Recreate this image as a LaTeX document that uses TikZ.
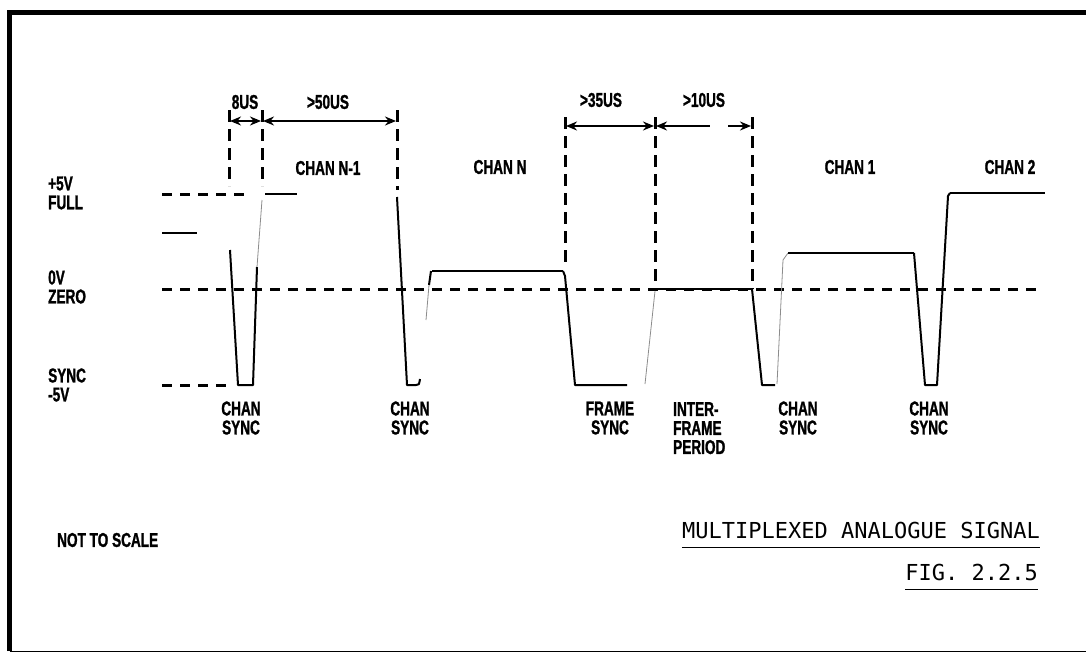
\documentclass[tikz,border=0pt]{standalone}
\usepackage{fontspec}
\usetikzlibrary{arrows.meta}
\newfontfamily\labfont[FakeStretch=0.68, BoldFeatures={FakeBold=1.2}]{Liberation Sans}
\newfontfamily\titfont{DejaVu Sans Mono}
\begin{document}
\begin{tikzpicture}[x=1pt,y=-1pt,
  lbl/.style={font=\labfont\bfseries\fontsize{20}{19}\selectfont, align=center, inner sep=0pt},
  lbll/.style={lbl, align=left, anchor=west},
  ttl/.style={font=\titfont\fontsize{22}{24}\selectfont, inner sep=0pt, anchor=east},
  sig/.style={line width=2pt, line join=round},
  lev/.style={line width=1.4pt},
  faint/.style={line width=0.8pt, black!45},
  hdash/.style={line width=3pt, dash pattern=on 10pt off 8pt},
  vdash/.style={line width=3pt, dash pattern=on 12pt off 7pt},
  dim/.style={line width=1.8pt, {Stealth[length=11pt,width=9pt]}-{Stealth[length=11pt,width=9pt]}},
  frame/.style={line width=5pt}]
\useasboundingbox (0,0) rectangle (1086,653);
% frame
\draw[frame] (9.5,651) -- (9.5,12) -- (1086,12);
\draw[line width=1pt] (9.5,651) -- (1086,651);

% level reference lines
\draw[hdash] (162,289) -- (1036,289);
\draw[hdash] (162,194) -- (250,194);
\draw[hdash] (162,385) -- (232,385);

% vertical markers
\coordinate (v1t) at (229,110); \coordinate (v1b) at (229,186);
\coordinate (v2t) at (262,110); \coordinate (v2b) at (262,186);
\coordinate (v3t) at (397,110); \coordinate (v3b) at (397,190);
\coordinate (v4t) at (565,117); \coordinate (v4b) at (565,268);
\coordinate (v5t) at (655,117); \coordinate (v5b) at (655,289);
\coordinate (v6t) at (752,117); \coordinate (v6b) at (752,289);
\draw[vdash] (v1t) -- (v1b);
\draw[vdash] (v2t) -- (v2b);
\draw[vdash] (v3t) -- (v3b);
\draw[vdash] (v4t) -- (v4b);
\draw[vdash] (v5t) -- (v5b);
\draw[vdash] (v6t) -- (v6b);

% dimension arrows
\coordinate (a1) at (230,121); \coordinate (a2) at (261,121);
\coordinate (a3) at (263,121); \coordinate (a4) at (396,121);
\coordinate (b1) at (566,126); \coordinate (b2) at (654,126);
\coordinate (c1) at (656,126); \coordinate (c2) at (751,126);
\draw[dim] (a1) -- (a2);
\draw[dim] (a3) -- (a4);
\draw[dim] (b1) -- (b2);
\draw[line width=1.8pt, {Stealth[length=11pt,width=9pt]}-] (c1) -- (710,126);
\draw[line width=1.8pt, -{Stealth[length=11pt,width=9pt]}] (728,126) -- (c2);

\node[lbl] (t8) at (245,102) {8US};
\node[lbl] (t50) at (328,102) {>50US};
\node[lbl] (t35) at (601,100) {>35US};
\node[lbl] (t10) at (704,100) {>10US};

% channel labels
\node[lbl] (cn1) at (328,168) {CHAN N-1};
\node[lbl] (cn) at (500,167) {CHAN N};
\node[lbl] (c1l) at (850,167) {CHAN 1};
\node[lbl] (c2l) at (1010,167) {CHAN 2};

% level labels
\node[lbll] (l5) at (48,193) {+5V\\FULL};
\node[lbll] (l0) at (48,287) {0V\\ZERO};
\node[lbll] (ls) at (48,385) {SYNC\\-5V};

% signal
\draw[lev] (162,233) -- (197,233);
\draw[sig] (230,250) -- (238,385) -- (253,385) -- (257,267);
\draw[faint] (257,267) -- (262,200);
\draw[lev] (265,194) -- (297,194);
\draw[sig] (397,197) -- (407,385) -- (416,385) .. controls (419,385) .. (420,379);
\draw[faint] (426,320) -- (429,285);
\draw[sig] (429,285) -- (431,271);
\draw[lev] (432,271) -- (563,271);
\draw[sig] (563,271) -- (565,276) -- (575,385) -- (627,385);
\draw[faint] (645,384) -- (655,291);
\draw[lev] (655,289) -- (752,289);
\draw[sig] (752,289) -- (762,385) -- (775,385);
\draw[faint] (777,384) -- (783,260) -- (788,253);
\draw[lev] (788,253) -- (914,253);
\draw[sig] (914,253) -- (925,385) -- (937,385) -- (948,196) -- (950,193);
\draw[lev] (950,193) -- (1045,193);

% sync labels
\node[lbl] (s1) at (241,418) {CHAN\\SYNC};
\node[lbl] (s2) at (410,418) {CHAN\\SYNC};
\node[lbl] (s3) at (610,418) {FRAME\\SYNC};
\node[lbl, align=left, anchor=north west] (s4) at (673,402) {INTER-\\FRAME\\PERIOD};
\node[lbl] (s5) at (798,418) {CHAN\\SYNC};
\node[lbl] (s6) at (929,418) {CHAN\\SYNC};

% captions
\node[lbll] (nts) at (57,540) {NOT TO SCALE};
\node[ttl] (title) at (1040,530) {MULTIPLEXED ANALOGUE SIGNAL};
\draw[line width=1.6pt] (title.south west) ++(0,9) coordinate (u1) -- (u1 -| title.south east);
\node[ttl] (fig) at (1038,572) {FIG. 2.2.5};
\draw[line width=1.6pt] (fig.south west) ++(0,9) coordinate (u2) -- (u2 -| fig.south east);
\end{tikzpicture}
\end{document}
